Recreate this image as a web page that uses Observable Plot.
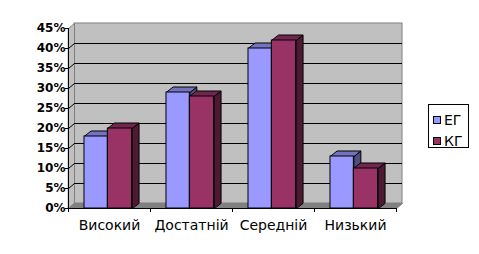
<!DOCTYPE html>
<html>
<head>
<meta charset="utf-8">
<script src="https://cdn.jsdelivr.net/npm/d3@7"></script>
<script src="https://cdn.jsdelivr.net/npm/@observablehq/plot@0.6"></script>
<style>
  html, body { margin: 0; padding: 0; background: #fff; }
  #wrap { position: relative; width: 479px; height: 254px; overflow: hidden; font-family: "DejaVu Sans", sans-serif; }
  #legend { position: absolute; left: 428px; top: 104px; width: 41px; height: 44px; border: 1px solid #000; background: #fff; box-sizing: border-box; }
  .item { position: absolute; left: 4px; height: 16px; display: flex; align-items: center; font-size: 14px; color: #000; }
  .sw { width: 6px; height: 6px; border: 1px solid #000; margin-right: 3px; }
</style>
</head>
<body>
<div id="wrap"></div>
<script>
// ---- data ----
const categories = ["Високий", "Достатній", "Середній", "Низький"];
const series = ["ЕГ", "КГ"];
const egValues = [18, 29, 40, 13];
const kgValues = [20, 28, 42, 10];
const yTicks = [0, 5, 10, 15, 20, 25, 30, 35, 40, 45];

// ---- styling / layout ----
const colors = {
  "ЕГ": {front: "#9999FF", top: "#7373BF", side: "#4D4D80"},
  "КГ": {front: "#993366", top: "#73264D", side: "#4D1A33"}
};
const W = 420, H = 254, ml = 68, mr = 24, mt = 28, mb = 46;
const yMax = 45;
const pxX = (W - ml - mr) / categories.length; // px per category unit
const pxY = (H - mt - mb) / yMax;               // px per percent
const wdx = 6 / pxX, wdy = 5 / pxY;             // wall depth in data units
const bdx = 7 / pxX, bdy = 5.5 / pxY;           // bar depth in data units
const slots = {"ЕГ": [0.195, 0.48], "КГ": [0.48, 0.775]};
const valuesBy = {"ЕГ": egValues, "КГ": kgValues};

function bars(s) {
  return categories.map((c, i) => ({
    cat: c, s, v: valuesBy[s][i],
    x1: i + slots[s][0], x2: i + slots[s][1]
  }));
}
function tops(s) {
  return bars(s).flatMap((b, k) => [
    {id: k, x: b.x1, y: b.v}, {id: k, x: b.x2, y: b.v},
    {id: k, x: b.x2 + bdx, y: b.v + bdy}, {id: k, x: b.x1 + bdx, y: b.v + bdy}
  ]);
}
function sides(s) {
  return bars(s).flatMap((b, k) => [
    {id: k, x: b.x2, y: 0}, {id: k, x: b.x2, y: b.v},
    {id: k, x: b.x2 + bdx, y: b.v + bdy}, {id: k, x: b.x2 + bdx, y: bdy}
  ]);
}
const n = categories.length;
const floor = [{x: 0, y: 0}, {x: n, y: 0}, {x: n + wdx, y: wdy}, {x: wdx, y: wdy}];
const sideWall = [{x: 0, y: 0}, {x: wdx, y: wdy}, {x: wdx, y: yMax + wdy}, {x: 0, y: yMax}];
const inner = yTicks.filter(t => t > 0 && t < yMax);

function seriesMarks(s) {
  return [
    Plot.line(sides(s), {x: "x", y: "y", z: "id", curve: "linear-closed", fill: colors[s].side, stroke: "#000", strokeWidth: 1}),
    Plot.line(tops(s), {x: "x", y: "y", z: "id", curve: "linear-closed", fill: colors[s].top, stroke: "#000", strokeWidth: 1}),
    Plot.rect(bars(s), {x1: "x1", x2: "x2", y1: 0, y2: "v", fill: colors[s].front, stroke: "#000", strokeWidth: 1})
  ];
}

const chart = Plot.plot({
  width: W, height: H,
  marginLeft: ml, marginRight: mr, marginTop: mt, marginBottom: mb,
  x: {type: "linear", domain: [0, n], axis: null},
  y: {type: "linear", domain: [0, yMax], axis: null},
  style: {fontFamily: "DejaVu Sans, sans-serif", background: "transparent", color: "#000", overflow: "visible"},
  marks: [
    // back wall
    Plot.rect([0], {x1: wdx, x2: n + wdx, y1: wdy, y2: yMax + wdy, fill: "#C0C0C0", stroke: "#808080", strokeWidth: 1}),
    // side wall
    Plot.line(sideWall, {x: "x", y: "y", curve: "linear-closed", fill: "#C0C0C0", stroke: "#808080", strokeWidth: 1}),
    // floor
    Plot.line(floor, {x: "x", y: "y", curve: "linear-closed", fill: "#808080", stroke: "#808080", strokeWidth: 1}),
    // gridlines on back wall
    Plot.ruleY(inner, {y: d => d + wdy, x1: wdx, x2: n + wdx, stroke: "#000", strokeWidth: 1}),
    // gridlines on side wall
    Plot.link(inner, {x1: 0, y1: d => d, x2: wdx, y2: d => d + wdy, stroke: "#000", strokeWidth: 1}),
    // bars
    ...seriesMarks("ЕГ"),
    ...seriesMarks("КГ"),
    // front axes
    Plot.ruleX([0], {y1: 0, y2: yMax, stroke: "#000", strokeWidth: 1}),
    Plot.ruleY([0], {x1: 0, x2: n, stroke: "#000", strokeWidth: 1}),
    Plot.ruleY(yTicks, {y: d => d, x1: -3 / pxX, x2: 0, stroke: "#000", strokeWidth: 1}),
    Plot.ruleX(d3.range(n + 1), {x: d => d, y1: -4 / pxY, y2: 0, stroke: "#000", strokeWidth: 1}),
    // tick labels
    Plot.text(yTicks, {x: 0, y: d => d, text: d => d + "%", textAnchor: "end", dx: -3, fontSize: 12, fontWeight: "bold", fill: "#000"}),
    Plot.text(categories, {x: (d, i) => i + 0.5, y: 0, text: d => d, dy: 17, fontSize: 14, fill: "#000"})
  ]
});

const wrap = document.getElementById("wrap");
wrap.appendChild(chart);

// legend
const legend = document.createElement("div");
legend.id = "legend";
series.forEach((s, i) => {
  const item = document.createElement("div");
  item.className = "item";
  item.style.top = (i === 0 ? 7 : 28) + "px";
  const sw = document.createElement("span");
  sw.className = "sw";
  sw.style.background = colors[s].front;
  const t = document.createElement("span");
  t.textContent = s;
  item.appendChild(sw);
  item.appendChild(t);
  legend.appendChild(item);
});
wrap.appendChild(legend);
</script>
</body>
</html>
